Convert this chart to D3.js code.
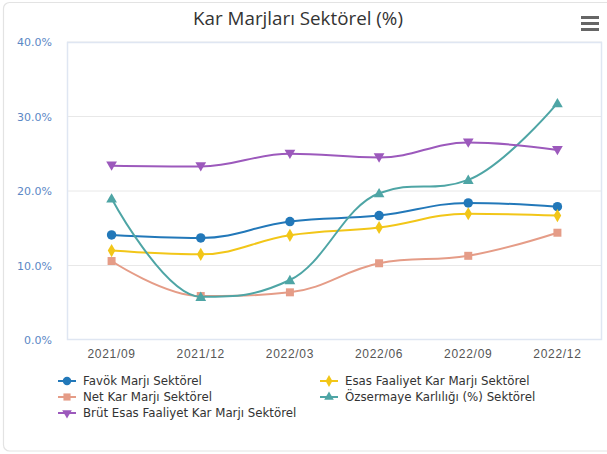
<!DOCTYPE html>
<html><head><meta charset="utf-8">
<script src="https://cdn.jsdelivr.net/npm/d3@7/dist/d3.min.js"></script>
<style>
html,body{margin:0;padding:0;background:#fff;}
svg{display:block;font-family:"DejaVu Sans",Verdana,sans-serif;}
</style></head>
<body><svg id="chart" width="607" height="454"></svg>
<script>
const categories = ["2021/09","2021/12","2022/03","2022/06","2022/09","2022/12"];
const seriesNames = ["Favök Marjı Sektörel","Esas Faaliyet Kar Marjı Sektörel","Net Kar Marjı Sektörel","Özsermaye Karlılığı (%) Sektörel","Brüt Esas Faaliyet Kar Marjı Sektörel"];
const favok = [14.1, 13.7, 15.9, 16.7, 18.4, 17.9];
const esas = [12.0, 11.5, 14.05, 15.1, 16.95, 16.7];
const net = [10.6, 5.9, 6.4, 10.3, 11.3, 14.4];
const ozsermaye = [19.0, 5.8, 8.05, 19.7, 21.5, 31.8];
const brut = [23.4, 23.3, 25.0, 24.5, 26.5, 25.5];
const yTicks = [0, 10, 20, 30, 40];
const colors = ["#2278b9", "#f2c618", "#e59c87", "#4ea5a5", "#9c59bc"];
const symbols = ["circle", "diamond", "square", "triangle", "triangle-down"];
const seriesValues = [favok, esas, net, ozsermaye, brut];

const svg = d3.select("#chart");
const m = {left: 67, right: 602, top: 42, bottom: 340};

// card
svg.append("rect").attr("x", 3.5).attr("y", 2.5).attr("width", 610).attr("height", 448.5)
  .attr("rx", 6).attr("fill", "#fff").attr("stroke", "#e3e3e3").attr("stroke-width", 1.2);

// title
svg.append("text").attr("x", 298).attr("y", 25).attr("text-anchor", "middle")
  .attr("font-family", "'Open Sans', sans-serif").attr("font-size", 18.8).attr("fill", "#333")
  .text("Kar Marjları Sektörel (%)");

// hamburger
[0, 6, 12].forEach(d => svg.append("rect").attr("x", 581).attr("y", 16 + d).attr("width", 18).attr("height", 3)
  .attr("fill", "#666"));

const x = d3.scaleBand().domain(categories).range([m.left, m.right]);
const y = d3.scaleLinear().domain([0, 40]).range([m.bottom, m.top]);

// grid
svg.append("g").selectAll("line").data(yTicks.filter(t => t > 0)).join("line")
  .attr("x1", m.left).attr("x2", m.right).attr("y1", d => y(d)).attr("y2", d => y(d))
  .attr("stroke", "#e8e8e8").attr("stroke-width", 1);
// plot border
svg.append("rect").attr("x", m.left + 0.5).attr("y", m.top + 0.5).attr("width", m.right - m.left - 1)
  .attr("height", m.bottom - m.top - 1).attr("fill", "none").attr("stroke", "#dfe6f2").attr("stroke-width", 1.5);

// y axis
const yAxis = d3.axisLeft(y).tickValues(yTicks).tickSize(0).tickPadding(0).tickFormat(d => d3.format(".1f")(d) + "%");
const yg = svg.append("g").attr("transform", `translate(${52},0)`).call(yAxis);
yg.select(".domain").remove();
yg.selectAll("text").attr("font-size", 11).attr("fill", "#5b87c5").attr("font-family", "'DejaVu Sans',sans-serif").attr("dy", "0.32em");

// x axis
const xAxis = d3.axisBottom(x).tickSize(0).tickPadding(0);
const xg = svg.append("g").attr("transform", `translate(0,${349})`).call(xAxis);
xg.select(".domain").remove();
xg.selectAll("text").attr("font-size", 12).attr("fill", "#555").attr("letter-spacing", "0.7px").attr("dy", "0.71em");

// Highcharts-like spline curve
function HCSpline(context) { this._context = context; }
HCSpline.prototype = {
  areaStart() {}, areaEnd() {},
  lineStart() { this._px = []; this._py = []; },
  point(px, py) { this._px.push(+px); this._py.push(+py); },
  lineEnd() {
    const X = this._px, Y = this._py, n = X.length, c = this._context;
    if (!n) return;
    const sm = 1.5, den = sm + 1;
    const ctrl = [];
    for (let i = 0; i < n; i++) {
      if (i === 0 || i === n - 1) { ctrl.push(null); continue; }
      const px = X[i], py = Y[i], lx = X[i-1], ly = Y[i-1], nx = X[i+1], ny = Y[i+1];
      let lcx = (sm * px + lx) / den, lcy = (sm * py + ly) / den;
      let rcx = (sm * px + nx) / den, rcy = (sm * py + ny) / den;
      const corr = ((rcy - lcy) * (rcx - px)) / (rcx - lcx) + py - rcy;
      lcy += corr; rcy += corr;
      if (lcy > ly && lcy > py) { lcy = Math.max(ly, py); rcy = 2 * py - lcy; }
      else if (lcy < ly && lcy < py) { lcy = Math.min(ly, py); rcy = 2 * py - lcy; }
      if (rcy > ny && rcy > py) { rcy = Math.max(ny, py); lcy = 2 * py - rcy; }
      else if (rcy < ny && rcy < py) { rcy = Math.min(ny, py); lcy = 2 * py - rcy; }
      ctrl.push({lcx, lcy, rcx, rcy});
    }
    c.moveTo(X[0], Y[0]);
    for (let i = 1; i < n; i++) {
      const a = ctrl[i-1], b = ctrl[i];
      const c1x = a ? a.rcx : X[i-1], c1y = a ? a.rcy : Y[i-1];
      const c2x = b ? b.lcx : X[i], c2y = b ? b.lcy : Y[i];
      c.bezierCurveTo(c1x, c1y, c2x, c2y, X[i], Y[i]);
    }
  }
};
const hcCurve = ctx => new HCSpline(ctx);

const cx = d => x(d) + x.bandwidth() / 2;
const symType = {circle: d3.symbolCircle, diamond: d3.symbolDiamond, square: d3.symbolSquare, triangle: d3.symbolTriangle, "triangle-down": d3.symbolTriangle};
const symSize = {circle: 70, diamond: 50, square: 64, triangle: 50, "triangle-down": 50};

seriesValues.forEach((vals, si) => {
  const pts = categories.map((c, i) => [cx(c), y(vals[i])]);
  const line = d3.line().curve(hcCurve);
  svg.append("path").attr("d", line(pts)).attr("fill", "none").attr("stroke", colors[si]).attr("stroke-width", 2);
  const s = symbols[si];
  svg.append("g").selectAll("path").data(pts).join("path")
    .attr("d", d3.symbol().type(symType[s]).size(symSize[s])())
    .attr("transform", d => `translate(${d[0]},${d[1] + (s === "triangle" ? 1 : s === "triangle-down" ? -1 : 0)})` + (s === "triangle-down" ? " rotate(180)" : ""))
    .attr("fill", colors[si]);
});

// legend
const legendPos = [[58, 381], [320, 381], [58, 397], [320, 397], [58, 413]];
seriesNames.forEach((name, si) => {
  const [lx, ly] = legendPos[si];
  const g = svg.append("g").attr("transform", `translate(${lx},${ly})`);
  g.append("line").attr("x1", 0).attr("x2", 18).attr("y1", 0).attr("y2", 0).attr("stroke", colors[si]).attr("stroke-width", 2);
  const s = symbols[si];
  g.append("path").attr("d", d3.symbol().type(symType[s]).size(symSize[s] * 0.8)())
    .attr("transform", `translate(9,0)` + (s === "triangle-down" ? " rotate(180)" : ""))
    .attr("fill", colors[si]);
  g.append("text").attr("x", 25).attr("y", 0).attr("dy", "0.35em").attr("font-size", 11.8)
    .attr("fill", "#333").text(name);
});
</script></body></html>
